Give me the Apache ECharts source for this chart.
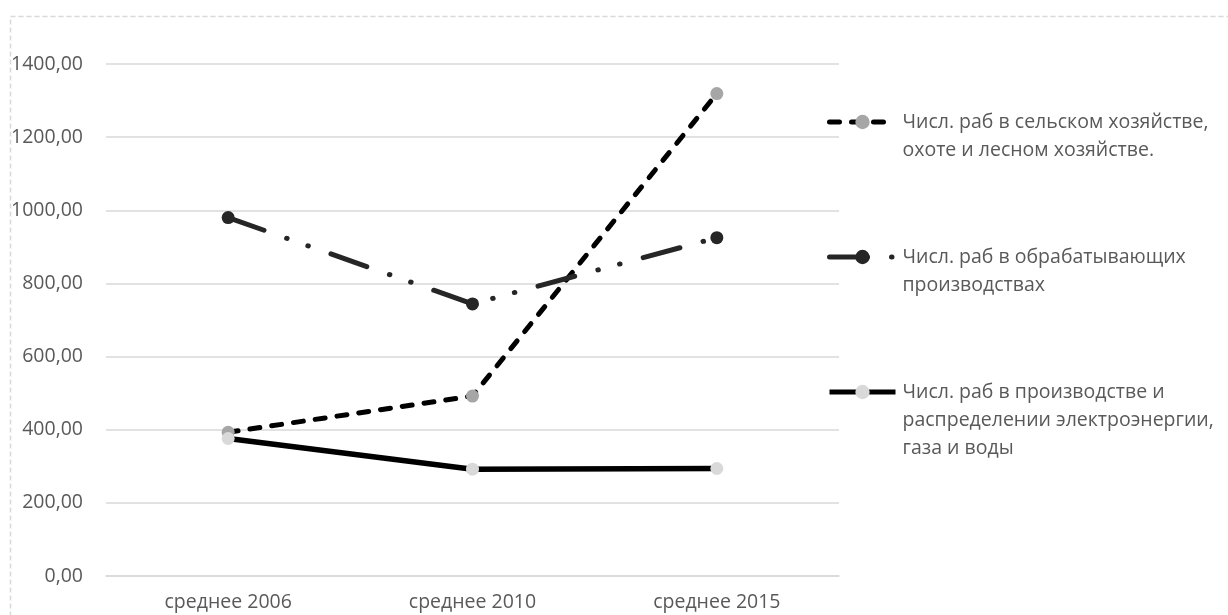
<!DOCTYPE html>
<html>
<head>
<meta charset="utf-8">
<script src="https://cdn.jsdelivr.net/npm/echarts@6/dist/echarts.min.js"></script>
<style>
html,body{margin:0;padding:0;background:#fff;}
#chart{width:1228px;height:615px;}
</style>
</head>
<body>
<div id="chart"></div>
<script>
var categories = ['среднее 2006', 'среднее 2010', 'среднее 2015'];
var seriesNames = [
  'Числ. раб в сельском хозяйстве, охоте и лесном хозяйстве.',
  'Числ. раб в обрабатывающих производствах',
  'Числ. раб в производстве и распределении электроэнергии, газа и воды'
];
var legendLines = [
  ['Числ. раб в сельском хозяйстве,', 'охоте и лесном хозяйстве.'],
  ['Числ. раб в обрабатывающих', 'производствах'],
  ['Числ. раб в производстве и', 'распределении электроэнергии,', 'газа и воды']
];
var agriculture = [393, 492, 1319];
var manufacturing = [980, 744, 925];
var utilities = [376, 292, 294];
var yTicks = [0, 200, 400, 600, 800, 1000, 1200, 1400];

var FONT = 'Open Sans';
var TXT = '#595959';
var FS = 19.5;

function legendFor(idx, top) {
  var lines = legendLines[idx];
  var pad = [];
  for (var i = 0; i < lines.length - 1; i++) pad.push('');
  var text = pad.concat(lines).join('\n');
  return {
    left: 827, top: top, padding: 0,
    itemWidth: 66, itemHeight: 18, itemGap: 0,
    data: [seriesNames[idx]],
    selectedMode: false,
    lineStyle: { width: 5 },
    formatter: function () { return text; },
    textStyle: { fontFamily: FONT, fontSize: FS, color: TXT, lineHeight: 28, padding: [0, 0, 0, 2] }
  };
}

var chart = echarts.init(document.getElementById('chart'), null, { renderer: 'canvas' });
chart.setOption({
  animation: false,
  backgroundColor: '#ffffff',
  graphic: [{
    type: 'rect', left: 8, top: 14, silent: true,
    shape: { width: 1300, height: 700 },
    style: { fill: 'none', stroke: '#d9d9d9', lineWidth: 1.5, lineDash: [5, 3] }
  }],
  grid: { left: 106, right: 389, top: 64, bottom: 39 },
  legend: [legendFor(0, 80), legendFor(1, 215), legendFor(2, 322)],
  xAxis: {
    type: 'category', data: categories, boundaryGap: true,
    axisLine: { lineStyle: { color: '#d9d9d9', width: 1.5 } },
    axisTick: { show: false },
    axisLabel: { fontFamily: FONT, fontSize: FS, color: TXT, margin: 16 }
  },
  yAxis: {
    type: 'value', min: yTicks[0], max: yTicks[yTicks.length - 1], interval: yTicks[1] - yTicks[0],
    axisLine: { show: false }, axisTick: { show: false },
    splitLine: { lineStyle: { color: '#d9d9d9', width: 1.5 } },
    axisLabel: {
      fontFamily: FONT, fontSize: FS, color: TXT, margin: 23,
      formatter: function (v) { return v.toFixed(2).replace('.', ','); }
    }
  },
  series: [
    {
      name: seriesNames[0], type: 'line', data: agriculture,
      symbol: 'circle', symbolSize: 13,
      lineStyle: { color: '#000000', width: 5, type: [10, 12], cap: 'round' },
      itemStyle: { color: '#a6a6a6', borderWidth: 0 }
    },
    {
      name: seriesNames[1], type: 'line', data: manufacturing,
      symbol: 'circle', symbolSize: 13,
      lineStyle: { color: '#262626', width: 5, type: [38, 24, 0.5, 22, 0.5, 24], cap: 'round' },
      itemStyle: { color: '#262626', borderWidth: 0 }
    },
    {
      name: seriesNames[2], type: 'line', data: utilities,
      symbol: 'circle', symbolSize: 13,
      lineStyle: { color: '#000000', width: 5.5 },
      itemStyle: { color: '#d9d9d9', borderWidth: 0 }
    }
  ]
});
</script>
</body>
</html>
